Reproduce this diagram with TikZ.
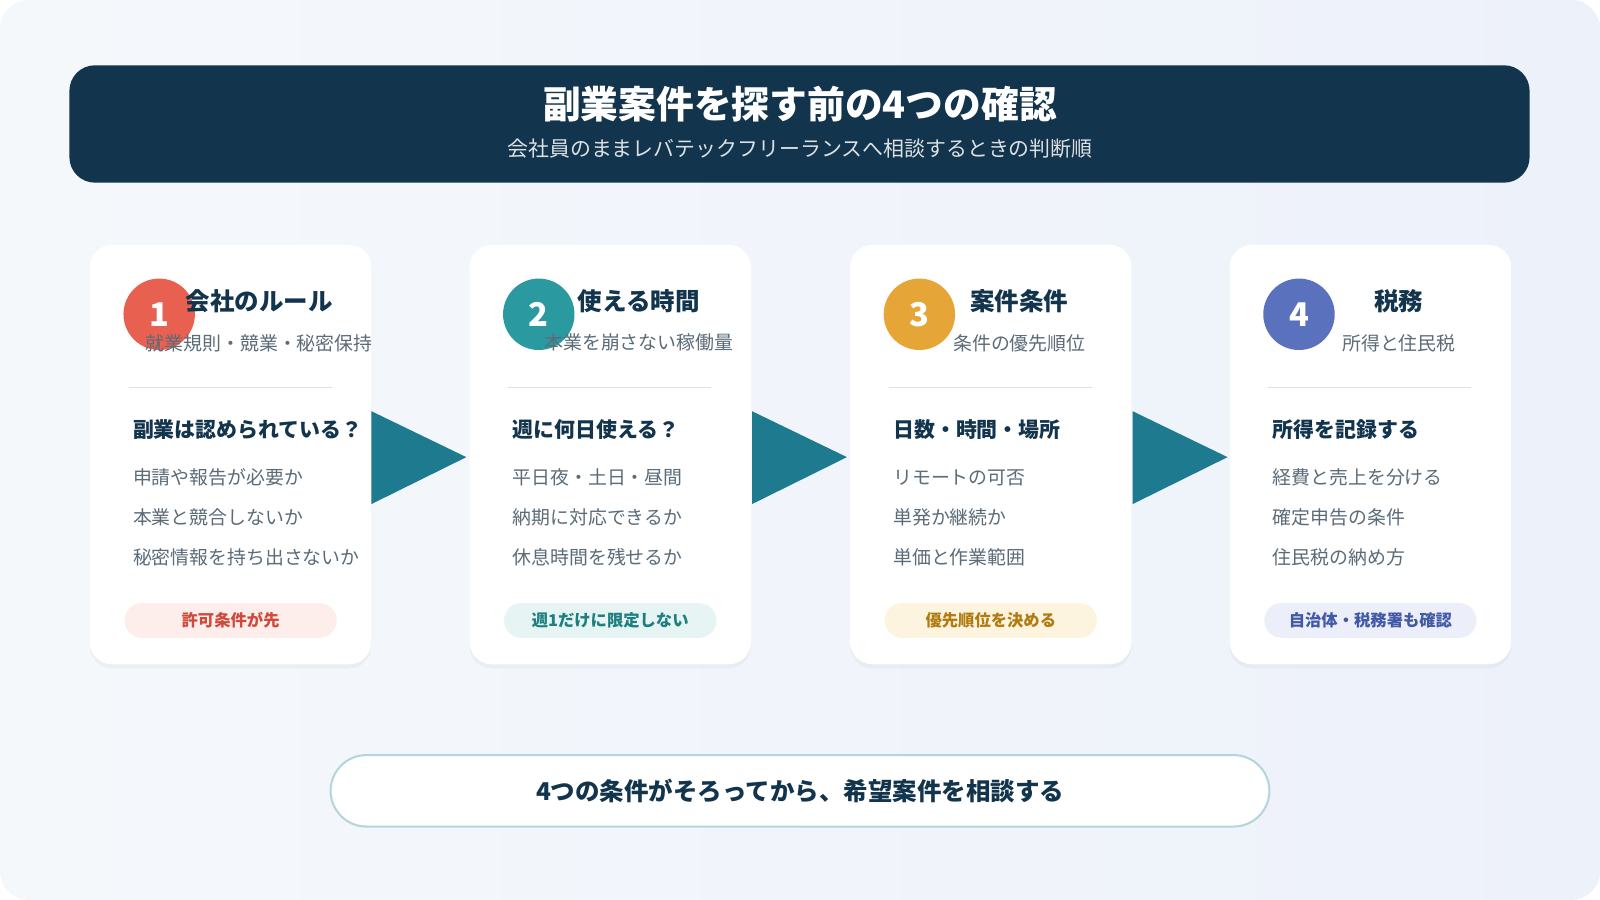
\documentclass[tikz,border=0pt]{standalone}
\usepackage{fontspec}
\setmainfont{Noto Sans CJK JP}
\usetikzlibrary{positioning,shadows,calc}
\definecolor{navy}{HTML}{12344D}
\definecolor{arrowteal}{HTML}{1D7A8F}
\definecolor{txtgray}{HTML}{5B6B78}
\definecolor{bgLeft}{HTML}{F5F8FB}\definecolor{bgRight}{HTML}{EDF1FA}
\definecolor{cRed}{HTML}{E8604F}\definecolor{cRedBg}{HTML}{FDEEEC}\definecolor{cRedTx}{HTML}{D0493A}
\definecolor{cTeal}{HTML}{2A9AA0}\definecolor{cTealBg}{HTML}{E6F4F3}\definecolor{cTealTx}{HTML}{1F7F80}
\definecolor{cOra}{HTML}{E5A637}\definecolor{cOraBg}{HTML}{FDF4E0}\definecolor{cOraTx}{HTML}{B07C12}
\definecolor{cBlue}{HTML}{5A72BE}\definecolor{cBlueBg}{HTML}{ECEFF9}\definecolor{cBlueTx}{HTML}{4159A6}
\definecolor{noteline}{HTML}{B5D5DD}
\tikzset{every picture/.style={line width=0.75pt}}
\tikzset{
  card/.style={fill=white, rounded corners=22pt, draw=none, drop shadow={shadow xshift=0pt, shadow yshift=-4pt, opacity=0.04, fill=navy}},
  num/.style={circle, minimum size=70pt, inner sep=0pt, text=white, font=\fontsize{32}{32}\selectfont\bfseries},
  cardtitle/.style={font=\fontsize{24}{26}\selectfont\bfseries, text=navy, inner sep=0pt},
  cardsub/.style={font=\fontsize{18.5}{20}\selectfont, text=txtgray, inner sep=0pt},
  question/.style={font=\fontsize{20.5}{22}\selectfont\bfseries, text=navy, anchor=west, inner sep=0pt},
  item/.style={font=\fontsize{18.5}{20}\selectfont, text=txtgray, anchor=west, inner sep=0pt},
  pill/.style={rounded corners=17pt, minimum width=208pt, minimum height=34pt, inner sep=0pt, font=\fontsize{16}{18}\selectfont\bfseries},
  flowarrow/.style={fill=arrowteal, draw=none}
}
\begin{document}
\begin{tikzpicture}[x=1pt,y=1pt,yscale=-1]
\useasboundingbox (0,0) rectangle (1568,882);
% background
\shade[left color=bgLeft, right color=bgRight, rounded corners=28pt] (0,0) rectangle (1568,882);
% header
\fill[navy, rounded corners=25pt] (68,64) rectangle (1499,179);
\node[text=white, font=\fontsize{37}{39}\selectfont\bfseries] (title) at (784,102) {副業案件を探す前の4つの確認};
\node[text=white!85!navy, font=\fontsize{20.5}{22}\selectfont] (subtitle) at (784,146) {会社員のままレバテックフリーランスへ相談するときの判断順};
% cards
\foreach \x/\n/\col/\t/\s/\q/\a/\b/\c/\p in {
  88/1/cRed/会社のルール/就業規則・競業・秘密保持/副業は認められている？/申請や報告が必要か/本業と競合しないか/秘密情報を持ち出さないか/許可条件が先,
  460/2/cTeal/使える時間/本業を崩さない稼働量/週に何日使える？/平日夜・土日・昼間/納期に対応できるか/休息時間を残せるか/週1だけに限定しない,
  833/3/cOra/案件条件/条件の優先順位/日数・時間・場所/リモートの可否/単発か継続か/単価と作業範囲/優先順位を決める,
  1205/4/cBlue/税務/所得と住民税/所得を記録する/経費と売上を分ける/確定申告の条件/住民税の納め方/自治体・税務署も確認}{
  \path[card] (\x,240) rectangle ++(276,411);
  \node[num, fill=\col] (num\n) at (\x+68,308) {\n};
  \node[cardtitle] (ttl\n) at (\x+166,295) {\t};
  \node[cardsub] (sub\n) at (\x+166,336) {\s};
  \draw[color=navy!15] (\x+38,380) -- (\x+237,380);
  \node[question] (q\n) at (\x+42,421) {\q};
  \node[item] (a\n) at (\x+42,468) {\a};
  \node[item] (b\n) at (\x+42,507) {\b};
  \node[item] (c\n) at (\x+42,546) {\c};
  \node[pill, fill=\col Bg, text=\col Tx] (pill\n) at (\x+138,608) {\p};
}
% arrows between cards
\foreach \x in {364,737,1110}{
  \fill[flowarrow] (\x,403) -- (\x+93,448) -- (\x,494) -- cycle;
}
% bottom note
\node[draw=noteline, line width=2pt, fill=white, rounded corners=35pt, minimum width=920pt, minimum height=70pt,
  font=\fontsize{24}{26}\selectfont\bfseries, text=navy] (note) at (784,775) {4つの条件がそろってから、希望案件を相談する};
\end{tikzpicture}
\end{document}
